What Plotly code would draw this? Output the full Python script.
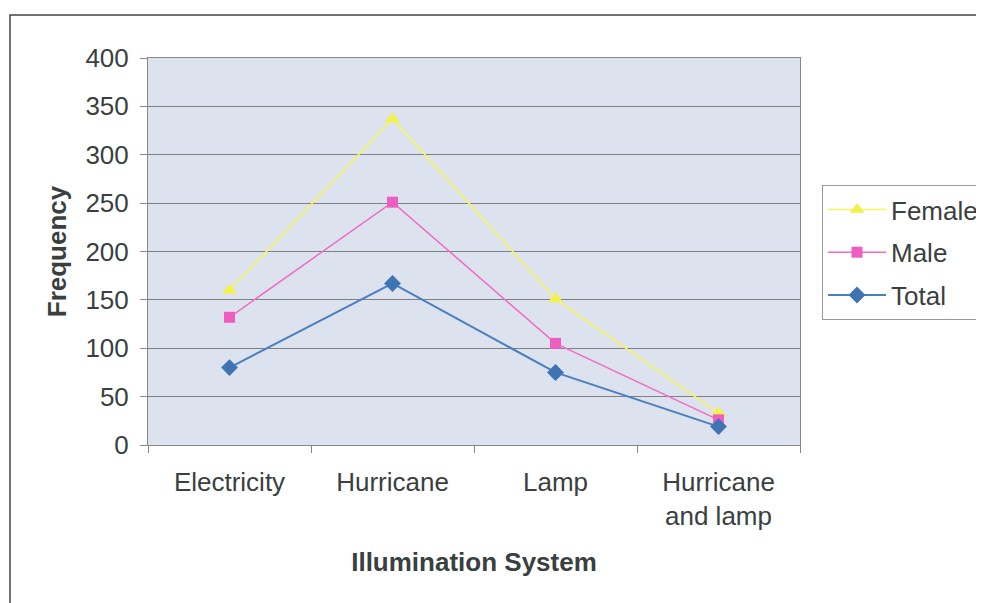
import plotly.graph_objects as go

categories = ["Electricity", "Hurricane", "Lamp", "Hurricane<br>and lamp"]
female = [160, 337, 151, 33]
male = [132, 251, 105, 26]
total = [80, 167, 75, 19]
y_ticks = [0, 50, 100, 150, 200, 250, 300, 350, 400]

# page offset (default body margin) compensated
OFF = 8
W, H = 984, 603
L, T = 148 - OFF, 58 - OFF
R = W - (800 - OFF)
B = H - (445 - OFF)
pw, ph = W - L - R, H - T - B

def px(x):
    return (x - OFF - L) / pw

def py(y):
    return 1 - (y - OFF - T) / ph

fig = go.Figure()
fig.add_trace(go.Scatter(x=categories, y=female, name="Female", mode="lines+markers",
                         legendgroup="f",
                         line=dict(color="#f7f75a", width=1.5),
                         marker=dict(symbol="triangle-up", size=13, color="#f2f24a")))
fig.add_trace(go.Scatter(x=categories, y=male, name="Male", mode="lines+markers",
                         legendgroup="m",
                         line=dict(color="#f06cc4", width=1.5),
                         marker=dict(symbol="square", size=11, color="#ee5ec0")))
fig.add_trace(go.Scatter(x=categories, y=total, name="Total", mode="lines+markers",
                         legendgroup="t",
                         line=dict(color="#4a7fbf", width=2),
                         marker=dict(symbol="diamond", size=13, color="#3f74b4")))

font = dict(family="Liberation Sans, Arial, sans-serif", size=26, color="#3a3f40")
tfont = dict(family="Liberation Sans, Arial, sans-serif", size=26, color="#3a3f40")

fig.update_layout(
    width=W, height=H,
    margin=dict(l=L, r=R, t=T, b=B, autoexpand=False),
    paper_bgcolor="white",
    plot_bgcolor="#dde2ef",
    font=font,
    showlegend=True,
    legend=dict(x=px(822), y=py(185), xanchor="left", yanchor="top",
                bordercolor="#999999", borderwidth=1, bgcolor="white",
                font=dict(family="Liberation Sans, Arial, sans-serif", size=26, color="#3a3f40"),
                itemwidth=58, tracegroupgap=6),
    xaxis=dict(
        type="category",
        range=[-0.5, 3.5],
        showgrid=False,
        showline=True, linecolor="#888888", linewidth=1, mirror=True,
        ticks="outside", tickson="boundaries", ticklen=7, tickcolor="#888888",
        tickfont=font, ticklabelstandoff=14,
        title=dict(text="<b>Illumination System</b>", font=tfont, standoff=22),
    ),
    yaxis=dict(
        range=[0, 400],
        tickvals=y_ticks,
        showgrid=True, gridcolor="#808080", gridwidth=1,
        showline=True, linecolor="#888888", linewidth=1, mirror=True,
        ticks="outside", ticklen=7, tickcolor="#888888",
        tickfont=font, ticklabelstandoff=6,
        zeroline=False,
        title=dict(text="<b>Frequency</b>", font=tfont, standoff=11),
    ),
    shapes=[
        dict(type="rect", xref="paper", yref="paper",
             x0=px(10), x1=px(1000), y0=py(620), y1=py(15),
             line=dict(color="#444444", width=1.5), fillcolor="rgba(0,0,0,0)", layer="below"),
    ],
)

fig.write_html("out.html")
